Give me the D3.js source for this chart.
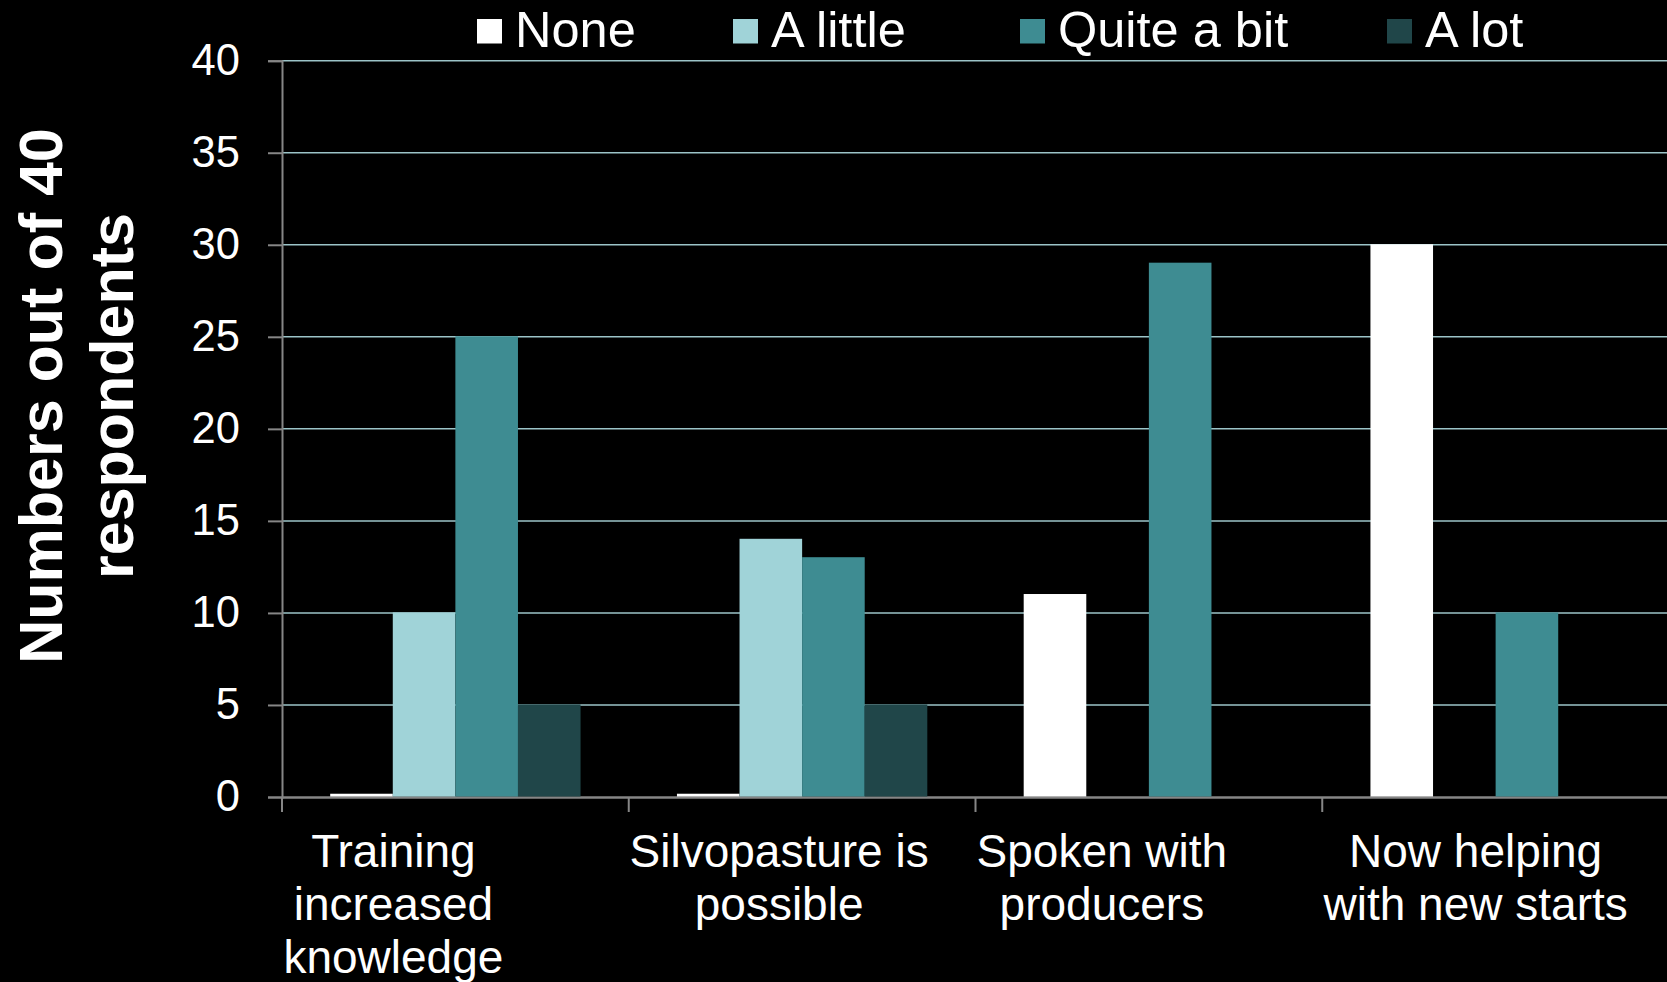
<!DOCTYPE html>
<html lang="en">
<head>
<meta charset="UTF-8">
<title>Survey responses</title>
<script src="https://d3js.org/d3.v7.min.js"></script>
<style>
  body { margin: 0; background: #000; }
  text { font-family: "Liberation Sans", Arial, sans-serif; fill: #fff; }
</style>
</head>
<body>
<script>
// data
const categories = ['Training increased knowledge', 'Silvopasture is possible', 'Spoken with producers', 'Now helping with new starts'];
const categoryLines = [['Training', 'increased', 'knowledge'], ['Silvopasture is', 'possible'], ['Spoken with', 'producers'], ['Now helping', 'with new starts']];
const seriesNames = ['None', 'A little', 'Quite a bit', 'A lot'];
const none      = [0.15, 0.15, 11, 30];
const aLittle   = [10, 14, 0, 0];
const quiteABit = [25, 13, 29, 10];
const aLot      = [5, 5, 0, 0];
const yTicks = [0, 5, 10, 15, 20, 25, 30, 35, 40];

const seriesValues = [none, aLittle, quiteABit, aLot];
const colors = ['#ffffff', '#a0d3d8', '#3e8c92', '#204649'];

let width = 1667, height = 982;
let plot = { left: 282, right: 1669, top: 60.7, bottom: 797 };

var svg = d3.select('body').append('svg').attr('width', width).attr('height', height);
svg.append('rect').attr('width', width).attr('height', height).attr('fill', '#000');

let x = d3.scaleBand().domain(categories).range([plot.left, plot.right]);
let xs = d3.scaleBand().domain(seriesNames).range([0, x.bandwidth()]).paddingOuter(0.77);
let y = d3.scaleLinear().domain([0, 40]).range([plot.bottom, plot.top]);
let color = d3.scaleOrdinal(seriesNames, colors);

// gridlines (behind the bars)
svg.append('g').selectAll('line')
  .data(yTicks.filter(d => d > 0))
  .join('line')
    .attr('x1', plot.left).attr('x2', plot.right)
    .attr('y1', d => y(d)).attr('y2', d => y(d))
    .attr('stroke', '#9cc4c8').attr('stroke-width', 1.5);

// x axis line and ticks at category boundaries
svg.append('line')
  .attr('x1', plot.left).attr('x2', plot.right)
  .attr('y1', y(0) + 0.5).attr('y2', y(0) + 0.5)
  .attr('stroke', '#868686').attr('stroke-width', 2.5);
svg.append('g').selectAll('line')
  .data(categories)
  .join('line')
    .attr('x1', d => x(d)).attr('x2', d => x(d))
    .attr('y1', y(0)).attr('y2', y(0) + 15)
    .attr('stroke', '#868686').attr('stroke-width', 2);

// bars
let rows = [];
categories.forEach((c, i) => seriesNames.forEach((s, j) => rows.push({ cat: c, series: s, value: seriesValues[j][i] })));

svg.append('g').selectAll('rect')
  .data(rows.filter(d => d.value > 0))
  .join('rect')
    .attr('x', d => x(d.cat) + xs(d.series))
    .attr('width', xs.bandwidth())
    .attr('y', d => y(d.value) - 0.5)
    .attr('height', d => y(0) - y(d.value))
    .attr('fill', d => color(d.series));

// y axis
let yAxis = svg.append('g')
  .attr('transform', `translate(${plot.left},0)`)
  .call(d3.axisLeft(y).tickValues(yTicks).tickSize(14).tickPadding(28));
yAxis.select('.domain').attr('stroke', '#868686').attr('stroke-width', 2);
yAxis.selectAll('.tick line').attr('stroke', '#868686').attr('stroke-width', 2);
yAxis.selectAll('.tick text')
  .attr('fill', '#fff')
  .style('font-family', '"Liberation Sans", Arial, sans-serif')
  .style('font-size', '43.5px');

// category labels
const labelShift = [-62, -23, -47, -20];
svg.append('g').selectAll('text')
  .data(categories)
  .join('text')
    .attr('transform', (d, i) => `translate(${x(d) + x.bandwidth() / 2 + labelShift[i]},867)`)
    .attr('text-anchor', 'middle')
    .style('font-size', '46px')
  .selectAll('tspan')
  .data((d, i) => categoryLines[i])
  .join('tspan')
    .attr('x', 0)
    .attr('dy', (d, i) => i ? 53 : 0)
    .text(d => d);

// y title
svg.append('text')
  .attr('transform', 'translate(61.7,396) rotate(-90)')
  .attr('text-anchor', 'middle')
  .style('font-size', '61px')
  .style('font-weight', 'bold')
  .selectAll('tspan')
  .data(['Numbers out of 40', 'respondents'])
  .join('tspan')
    .attr('x', 0)
    .attr('dy', (d, i) => i ? 71.3 : 0)
    .text(d => d);

// legend
const legendX = [477, 733, 1020, 1387];
let legend = svg.append('g').selectAll('g')
  .data(seriesNames)
  .join('g')
    .attr('transform', (d, i) => `translate(${legendX[i]},0)`);
legend.append('rect')
  .attr('y', 19).attr('width', 25).attr('height', 24.5)
  .attr('fill', d => color(d));
legend.append('text')
  .attr('x', 38).attr('y', 46.7)
  .style('font-size', '50.5px')
  .text(d => d);
</script>
</body>
</html>
